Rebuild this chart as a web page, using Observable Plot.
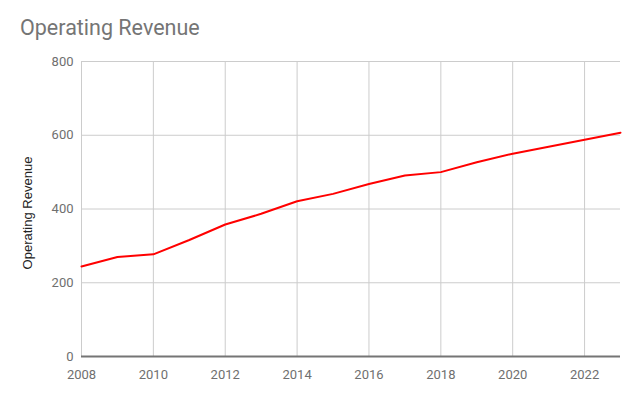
<!DOCTYPE html>
<html><head>
<meta charset="utf-8">
<script src="https://cdn.jsdelivr.net/npm/d3@7"></script>
<script src="https://cdn.jsdelivr.net/npm/@observablehq/plot@0.6"></script>
<style>
body{margin:0;background:#fff;font-family:Roboto,sans-serif}
#title{height:50px;box-sizing:border-box;padding:15px 0 0 20px;font-size:21.5px;color:#757575;line-height:26px}
</style></head><body>
<div id="title">Operating Revenue</div>
<div id="chart"></div>
<script>
const years = [2008,2009,2010,2011,2012,2013,2014,2015,2016,2017,2018,2019,2020,2021,2022,2023];
const revenue = [244,270,277,316,358,387,421,441,468,491,500,527,550,569,588,607];
const xTicks = [2008,2010,2012,2014,2016,2018,2020,2022];
const yTicks = [0,200,400,600,800];
const yTitle = "Operating Revenue";
const data = years.map((y,i)=>({year:y, value:revenue[i]}));
const plot = Plot.plot({
  width:640, height:346, marginTop:11, marginBottom:40, marginLeft:81, marginRight:20,
  style:{fontFamily:"Roboto, sans-serif", fontSize:"13px", color:"#6f6f6f", background:"#fff"},
  x:{domain:[2008,2023], label:null},
  y:{domain:[0,800], label:null},
  marks:[
    Plot.gridX(xTicks,{stroke:"#cccccc", strokeOpacity:1}),
    Plot.gridY(yTicks,{stroke:"#cccccc", strokeOpacity:1}),
    Plot.axisX(xTicks,{tickSize:0, tickPadding:13, tickFormat:d=>String(d), label:null, fill:"#6f6f6f", fontSize:13}),
    Plot.axisY(yTicks,{tickSize:0, tickPadding:8, label:null, fill:"#6f6f6f", fontSize:13}),
    Plot.ruleY([0],{stroke:"#757575", strokeWidth:2}),
    Plot.lineY(data,{x:"year", y:"value", stroke:"#ff0000", strokeWidth:2}),
    Plot.text([yTitle],{text:d=>d, frameAnchor:"left", textAnchor:"middle", dx:-54, dy:4, rotate:-90, fill:"#222", fontSize:13, fontFamily:"'Liberation Sans', Arial, sans-serif"})
  ]
});
document.getElementById("chart").append(plot);
</script>
</body></html>
